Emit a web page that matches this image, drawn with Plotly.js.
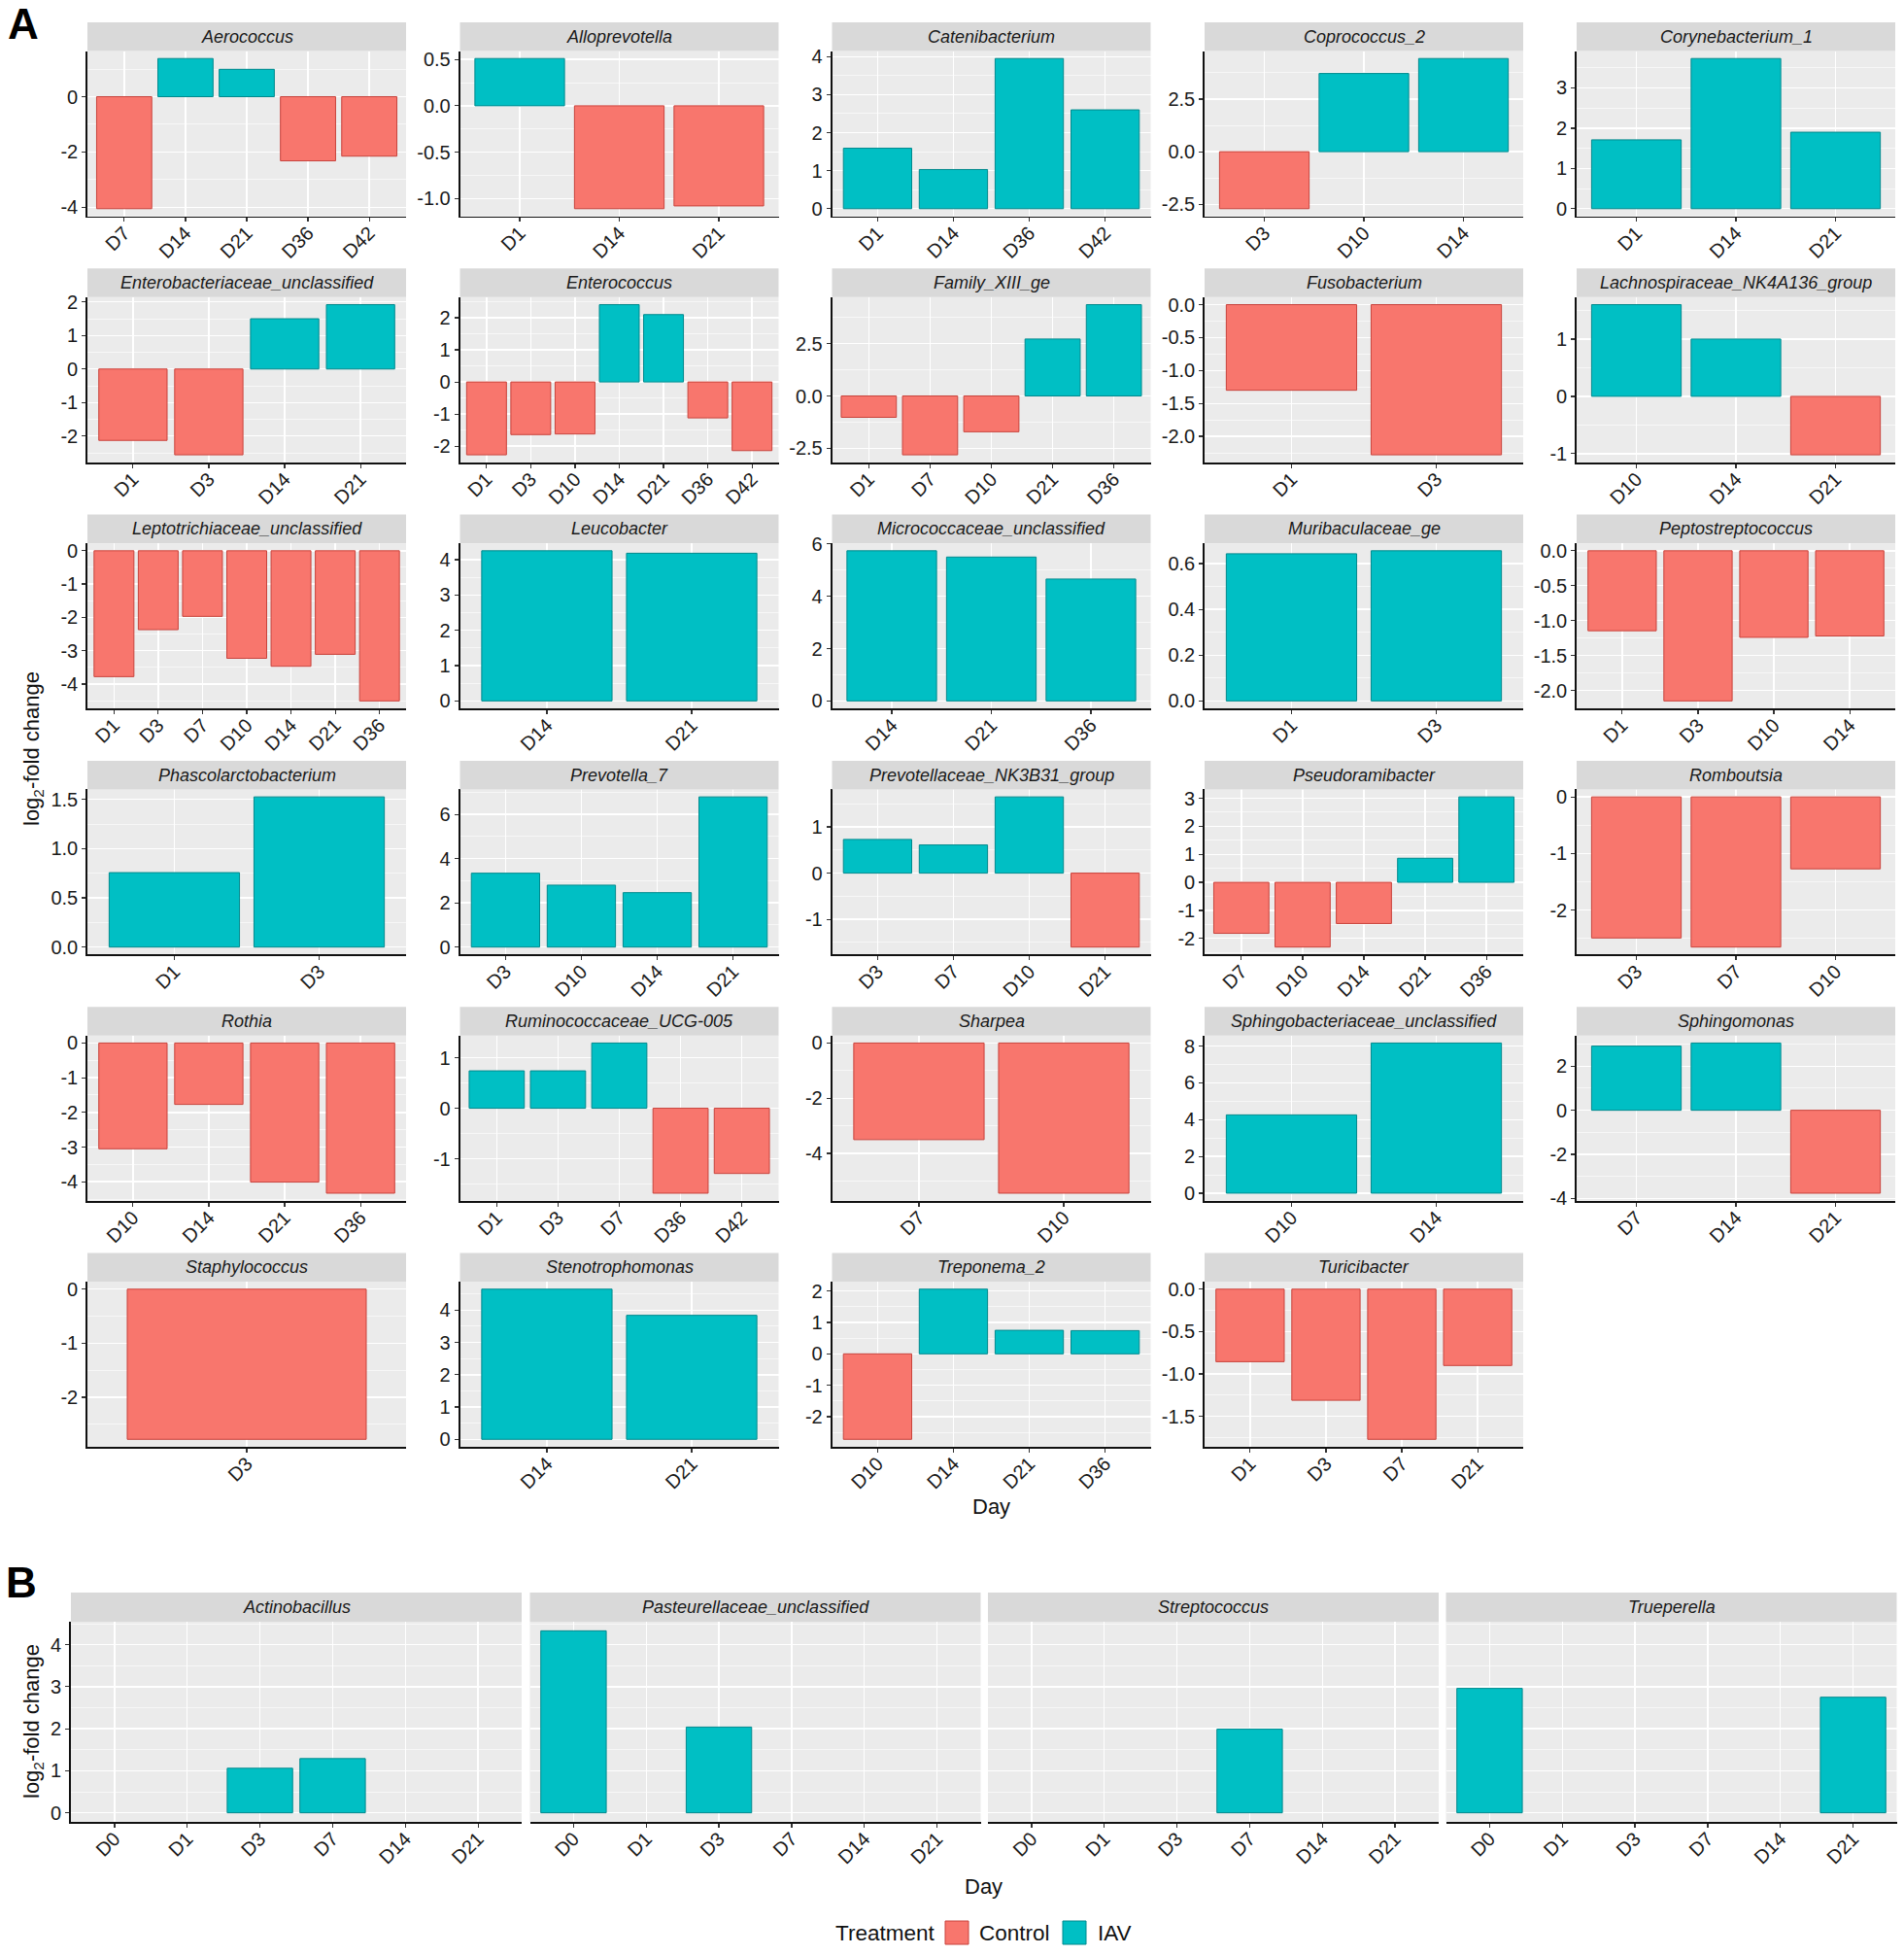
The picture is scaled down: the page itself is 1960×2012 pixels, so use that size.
<!DOCTYPE html>
<html>
<head>
<meta charset="utf-8">
<script src="https://cdn.plot.ly/plotly-3.0.1.min.js"></script>
<style>body{margin:0;background:#fff}</style>
</head>
<body>
<div id="chart" style="width:1960px;height:2012px"></div>
<script>
const W = 1960, H = 2012;

// ---- panel A: one facet per genus ----
const generaA = [
    'Aerococcus', 'Alloprevotella', 'Catenibacterium', 'Coprococcus_2', 'Corynebacterium_1',
    'Enterobacteriaceae_unclassified', 'Enterococcus', 'Family_XIII_ge', 'Fusobacterium', 'Lachnospiraceae_NK4A136_group',
    'Leptotrichiaceae_unclassified', 'Leucobacter', 'Micrococcaceae_unclassified', 'Muribaculaceae_ge', 'Peptostreptococcus',
    'Phascolarctobacterium', 'Prevotella_7', 'Prevotellaceae_NK3B31_group', 'Pseudoramibacter', 'Romboutsia',
    'Rothia', 'Ruminococcaceae_UCG-005', 'Sharpea', 'Sphingobacteriaceae_unclassified', 'Sphingomonas',
    'Staphylococcus', 'Stenotrophomonas', 'Treponema_2', 'Turicibacter'
]

const daysA = [
    ['D7', 'D14', 'D21', 'D36', 'D42'], ['D1', 'D14', 'D21'], ['D1', 'D14', 'D36', 'D42'], ['D3', 'D10', 'D14'], ['D1', 'D14', 'D21'],
    ['D1', 'D3', 'D14', 'D21'], ['D1', 'D3', 'D10', 'D14', 'D21', 'D36', 'D42'], ['D1', 'D7', 'D10', 'D21', 'D36'], ['D1', 'D3'], ['D10', 'D14', 'D21'],
    ['D1', 'D3', 'D7', 'D10', 'D14', 'D21', 'D36'], ['D14', 'D21'], ['D14', 'D21', 'D36'], ['D1', 'D3'], ['D1', 'D3', 'D10', 'D14'],
    ['D1', 'D3'], ['D3', 'D10', 'D14', 'D21'], ['D3', 'D7', 'D10', 'D21'], ['D7', 'D10', 'D14', 'D21', 'D36'], ['D3', 'D7', 'D10'],
    ['D10', 'D14', 'D21', 'D36'], ['D1', 'D3', 'D7', 'D36', 'D42'], ['D7', 'D10'], ['D10', 'D14'], ['D7', 'D14', 'D21'],
    ['D3'], ['D14', 'D21'], ['D10', 'D14', 'D21', 'D36'], ['D1', 'D3', 'D7', 'D21']
]

const lfcA = [
    [-4.05, 1.38, 0.99, -2.32, -2.15], [0.51, -1.11, -1.08], [1.59, 1.03, 3.95, 2.60], [-2.71, 3.72, 4.43], [1.71, 3.73, 1.90],
    [-2.13, -2.56, 1.50, 1.92], [-2.27, -1.64, -1.62, 2.41, 2.10, -1.12, -2.14], [-1.02, -2.81, -1.71, 2.72, 4.36], [-1.30, -2.28], [1.60, 1.00, -1.02],
    [-3.78, -2.37, -1.97, -3.23, -3.47, -3.11, -4.51], [4.25, 4.18], [5.74, 5.50, 4.66], [0.643, 0.656], [-1.145, -2.15, -1.24, -1.22],
    [0.756, 1.525], [3.34, 2.80, 2.46, 6.79], [0.73, 0.61, 1.65, -1.60], [-1.82, -2.31, -1.47, 0.86, 3.05], [-2.49, -2.65, -1.27],
    [-3.05, -1.77, -4.01, -4.33], [0.74, 0.74, 1.29, -1.68, -1.29], [-3.50, -5.44], [4.26, 8.17], [2.91, 3.05, -3.76],
    [-2.78], [4.65, 3.84], [-2.72, 2.06, 0.75, 0.74], [-0.855, -1.31, -1.77, -0.90]
]

const yTicksA = [
    [-4, -2, 0], [-1, -0.5, 0, 0.5], [0, 1, 2, 3, 4], [-2.5, 0, 2.5], [0, 1, 2, 3],
    [-2, -1, 0, 1, 2], [-2, -1, 0, 1, 2], [-2.5, 0, 2.5], [-2, -1.5, -1, -0.5, 0], [-1, 0, 1],
    [-4, -3, -2, -1, 0], [0, 1, 2, 3, 4], [0, 2, 4, 6], [0, 0.2, 0.4, 0.6], [-2, -1.5, -1, -0.5, 0],
    [0, 0.5, 1, 1.5], [0, 2, 4, 6], [-1, 0, 1], [-2, -1, 0, 1, 2, 3], [-2, -1, 0],
    [-4, -3, -2, -1, 0], [-1, 0, 1], [-4, -2, 0], [0, 2, 4, 6, 8], [-4, -2, 0, 2],
    [-2, -1, 0], [0, 1, 2, 3, 4], [-2, -1, 0, 1, 2], [-1.5, -1, -0.5, 0]
]

// ---- panel B: shared y, all days on the axis ----
const generaB = ['Actinobacillus', 'Pasteurellaceae_unclassified', 'Streptococcus', 'Trueperella']
const dayLevelsB = ['D0', 'D1', 'D3', 'D7', 'D14', 'D21']
const daysB = [['D3', 'D7'], ['D0', 'D3'], ['D7'], ['D0', 'D21']]
const lfcB = [[1.06, 1.29], [4.33, 2.04], [1.99], [2.96, 2.75]]
const yTicksB = [0, 1, 2, 3, 4]

const treatments = ['Control', 'IAV']

// styling
const fill = {Control: '#F8766D', IAV: '#00BFC4'}
const edge = {Control: '#C8433C', IAV: '#00898D'}
const FONT = 'Liberation Sans, Arial, sans-serif'
const tickFont = {family: FONT, size: 20, color: '#1a1a1a'}

const traces = []
const shapes = []
const annotations = []
const layout = {
    width: W,
    height: H,
    margin: {l: 0, r: 0, t: 0, b: 0},
    paper_bgcolor: '#ffffff',
    plot_bgcolor: '#EBEBEB',
    barmode: 'overlay',
    showlegend: false,
    font: {family: FONT, color: '#1a1a1a'},
}

const fx = p => p / W
const fy = p => 1 - p / H

// ggplot-like 5% expansion of the continuous scale (bars always include 0)
function expandRange(vals) {
    const lo = Math.min(0, ...vals)
    const hi = Math.max(0, ...vals)
    const pad = (hi - lo) * 0.05
    return [lo - pad, hi + pad]
}

function minorVals(ticks, r) {
    const step = ticks[1] - ticks[0]
    let m = ticks[0] - step / 2
    while (m - step >= r[0]) m -= step
    const out = []
    for (; m <= r[1]; m += step) {
        if (m >= r[0]) out.push(m)
    }
    return out
}

function fmtTicks(ticks) {
    const dec = ticks.some(t => Math.abs(t - Math.round(t)) > 1e-9) ? 1 : 0
    return ticks.map(t => t.toFixed(dec))
}

let axisCount = 0

function addPanel(name, days, categories, vals, yr, ticks, box, showY) {
    axisCount++
    const suffix = axisCount === 1 ? '' : String(axisCount)
    const xref = 'x' + suffix, yref = 'y' + suffix

    layout['xaxis' + suffix] = {
        domain: [fx(box.left), fx(box.left + box.w)],
        anchor: yref,
        type: 'category',
        categoryorder: 'array',
        categoryarray: categories,
        range: [-0.6, categories.length - 0.4],
        tickmode: 'array',
        tickvals: categories,
        ticktext: categories,
        tickangle: -45,
        tickfont: tickFont,
        ticklabelstandoff: -8,
        ticks: 'outside', ticklen: 4, tickwidth: 1.2, tickcolor: '#333333',
        showline: true, linecolor: '#111111', linewidth: 1.8,
        showgrid: true, gridcolor: '#ffffff', gridwidth: 1.4,
        zeroline: false, automargin: false, fixedrange: true,
    }

    const yaxis = {
        domain: [fy(box.bottom), fy(box.top)],
        anchor: xref,
        range: yr,
        tickmode: 'array',
        tickvals: ticks,
        showticklabels: showY,
        ticks: showY ? 'outside' : '', ticklen: 4, tickwidth: 1.2, tickcolor: '#333333',
        showline: showY, linecolor: '#111111', linewidth: 1.8,
        showgrid: true, gridcolor: '#ffffff', gridwidth: 1.4,
        minor: {tickmode: 'array', tickvals: minorVals(ticks, yr), showgrid: true, gridcolor: '#ffffff', gridwidth: 0.6, ticks: ''},
        zeroline: false, automargin: false, fixedrange: true,
    }
    if (showY) {
        yaxis.ticktext = fmtTicks(ticks)
        yaxis.tickfont = tickFont
    }
    layout['yaxis' + suffix] = yaxis

    // Control bars are the negative ones, IAV the positive ones
    for (const group of treatments) {
        const idx = vals.map((v, i) => i).filter(i => (group === 'Control') === (vals[i] < 0))
        if (!idx.length) continue
        traces.push({
            type: 'bar',
            name: group,
            x: idx.map(i => days[i]),
            y: idx.map(i => vals[i]),
            xaxis: xref,
            yaxis: yref,
            width: 0.9,
            marker: {color: fill[group], line: {color: edge[group], width: 1}},
            hovertemplate: name + ' %{x}: %{y}<extra>' + group + '</extra>',
        })
    }

    // facet strip
    shapes.push({
        type: 'rect', xref: 'paper', yref: 'paper',
        x0: fx(box.left), x1: fx(box.left + box.w),
        y0: fy(box.top), y1: fy(box.top - box.strip),
        fillcolor: '#D9D9D9', line: {width: 0},
    })
    annotations.push({
        xref: 'paper', yref: 'paper',
        x: fx(box.left + box.w / 2), y: fy(box.top - box.strip / 2),
        xanchor: 'center', yanchor: 'middle', showarrow: false,
        text: '<i>' + name + '</i>',
        font: {family: FONT, size: 18, color: '#1a1a1a'},
    })
}

// panel A grid: 5 columns, 6 rows
const colLeftA = [90, 473.5, 856.5, 1240, 1623]
const panelWA = 328
const rowStepA = 253.3
const stripH = 29.5

generaA.forEach((g, i) => {
    const row = Math.floor(i / 5), col = i % 5
    const stripTop = 23 + rowStepA * row
    const box = {left: colLeftA[col], w: panelWA, top: stripTop + stripH, bottom: stripTop + 199.5, strip: stripH}
    addPanel(g, daysA[i], daysA[i], lfcA[i], expandRange(lfcA[i]), yTicksA[i], box, true)
})

// panel B: 4 columns in one row, y shared
const colLeftB = [73, 545.5, 1017, 1488.5]
const rangeB = expandRange(lfcB.flat())
generaB.forEach((g, i) => {
    const box = {left: colLeftB[i], w: 464, top: 1669, bottom: 1875, strip: 30}
    addPanel(g, daysB[i], dayLevelsB, lfcB[i], rangeB, yTicksB, box, i === 0)
})

// panel letters and axis titles
const titleFont = {family: FONT, size: 22, color: '#111111'}
annotations.push(
    {xref: 'paper', yref: 'paper', x: fx(6), y: fy(24), xanchor: 'left', yanchor: 'middle', showarrow: false,
        text: '<b>A</b>', font: {family: FONT, size: 44, color: '#000000'}},
    {xref: 'paper', yref: 'paper', x: fx(4), y: fy(1628), xanchor: 'left', yanchor: 'middle', showarrow: false,
        text: '<b>B</b>', font: {family: FONT, size: 44, color: '#000000'}},
    {xref: 'paper', yref: 'paper', x: fx(34), y: fy(771), textangle: -90, showarrow: false,
        xanchor: 'center', yanchor: 'middle', text: 'log<sub>2</sub>-fold change', font: titleFont},
    {xref: 'paper', yref: 'paper', x: fx(34), y: fy(1772), textangle: -90, showarrow: false,
        xanchor: 'center', yanchor: 'middle', text: 'log<sub>2</sub>-fold change', font: titleFont},
    {xref: 'paper', yref: 'paper', x: fx(1020), y: fy(1550), showarrow: false,
        xanchor: 'center', yanchor: 'middle', text: 'Day', font: titleFont},
    {xref: 'paper', yref: 'paper', x: fx(1012), y: fy(1941), showarrow: false,
        xanchor: 'center', yanchor: 'middle', text: 'Day', font: titleFont},
)

// legend (drawn by hand so the keys keep ggplot's size)
const legendFont = {family: FONT, size: 22.5, color: '#111111'}
const legendKeys = [
    {label: 'Control', key: 973, text: 1006},
    {label: 'IAV', key: 1094, text: 1128},
]
annotations.push({xref: 'paper', yref: 'paper', x: fx(858), y: fy(1989), xanchor: 'left', yanchor: 'middle',
    showarrow: false, text: 'Treatment', font: legendFont})
legendKeys.forEach(k => {
    shapes.push({type: 'rect', xref: 'paper', yref: 'paper', x0: fx(k.key), x1: fx(k.key + 24),
        y0: fy(2001), y1: fy(1977), fillcolor: fill[k.label], line: {color: edge[k.label], width: 1}})
    annotations.push({xref: 'paper', yref: 'paper', x: fx(k.text), y: fy(1989), xanchor: 'left', yanchor: 'middle',
        showarrow: false, text: k.label, font: legendFont})
})

layout.shapes = shapes
layout.annotations = annotations

Plotly.newPlot('chart', traces, layout, {staticPlot: true})
</script>
</body>
</html>
